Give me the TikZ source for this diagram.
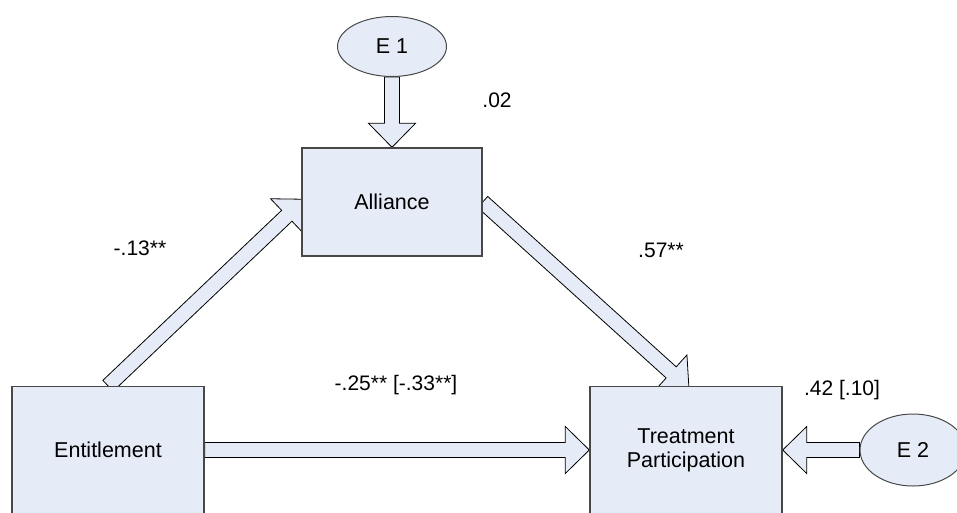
\documentclass[tikz,border=0pt]{standalone}
\usepackage{fontspec}
\setmainfont{Liberation Sans}
\usetikzlibrary{calc,backgrounds,shapes.geometric}

\definecolor{boxfill}{RGB}{230,236,247}
\definecolor{boxline}{RGB}{72,72,72}

\tikzset{
  var/.style={draw=boxline, line width=1.4pt, fill=boxfill, rectangle,
    inner sep=0pt, align=center, font=\fontsize{21.5}{24}\selectfont},
  err/.style={draw=boxline, line width=1pt, fill=boxfill, ellipse,
    inner sep=0pt, font=\fontsize{21.5}{24}\selectfont},
  coef/.style={anchor=base, inner sep=0pt, font=\fontsize{21}{24}\selectfont},
  fatarrow/.style={draw=black, line width=0.8pt, fill=boxfill, line join=miter},
}

% Block arrow from #2 (tail) to #3 (tip); optional #1 pushes the tip further on.
\newcommand\blockarrow[3][0pt]{%
  \coordinate (ba-tip) at ($(#3)!-#1!(#2)$);
  \coordinate (ba-base) at ($(ba-tip)!24pt!(#2)$);
  \draw[fatarrow]
    ($(#2)!7.5pt!90:(ba-tip)$) -- ($(ba-base)!7.5pt!90:(ba-tip)$)
    -- ($(ba-base)!23.5pt!90:(ba-tip)$) -- (ba-tip)
    -- ($(ba-base)!23.5pt!-90:(ba-tip)$) -- ($(ba-base)!7.5pt!-90:(ba-tip)$)
    -- ($(#2)!7.5pt!-90:(ba-tip)$) -- cycle;
}

\begin{document}
\begin{tikzpicture}[x=1pt,y=-1pt]
  \useasboundingbox (0,0) rectangle (957,512);
  \begin{scope}
    \clip (0,0) rectangle (957,512);

    % variables
    \node[var, minimum width=180pt, minimum height=108pt] (al) at (392,202) {Alliance};
    \node[var, minimum width=192pt, minimum height=127pt] (ent) at (108,450) {Entitlement};
    \node[var, minimum width=192pt, minimum height=127pt] (tp) at (686,450) {Treatment\\Participation};

    % error terms
    \node[err, minimum width=109pt, minimum height=60pt] (e1) at (392,46.5) {E 1};
    \node[err, minimum width=106pt, minimum height=72pt] (e2) at (913,450) {E 2};

    % paths
    \begin{scope}[on background layer]
      \blockarrow{e1.south}{al.north}
      \blockarrow[4pt]{ent.north}{al.west}
      \blockarrow[4pt]{al.east}{tp.north}
      \blockarrow{ent.east}{tp.west}
      \blockarrow{e2.west}{tp.east}
    \end{scope}

    % coefficients
    \node[coef] (c-e1) at (497,107.5) {.02};
    \node[coef] (c-ea) at (140,255.5) {-.13**};
    \node[coef] (c-at) at (661,257.5) {.57**};
    \node[coef] (c-e2) at (842,395.5) {.42 [.10]};
    \node[coef] (c-et) at (396,390.5) {-.25** [-.33**]};
  \end{scope}
\end{tikzpicture}
\end{document}
